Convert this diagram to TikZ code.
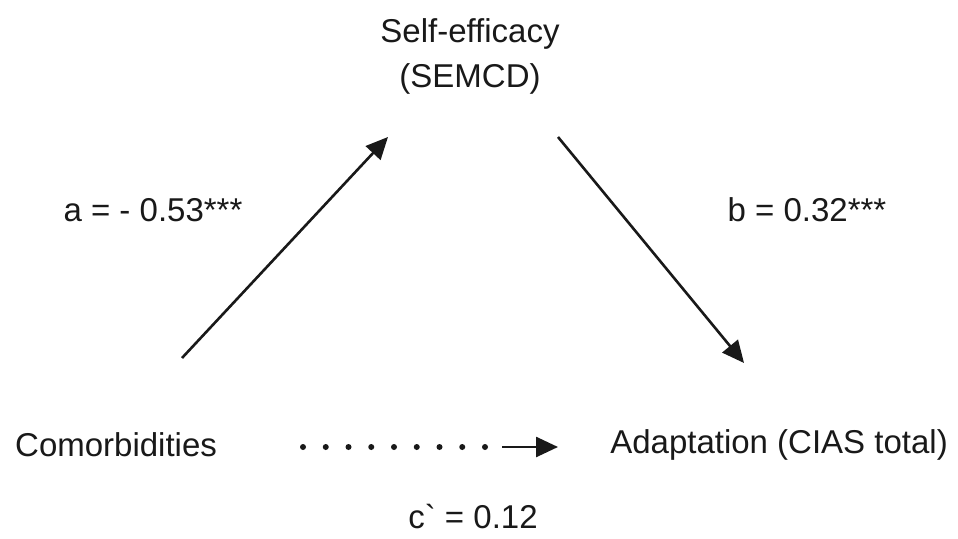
\documentclass[tikz,border=0pt]{standalone}
\usepackage{fontspec}
\setmainfont{Liberation Sans}
\newfontfamily\rawsans{Liberation Sans}[Ligatures=TeXOff]
\usetikzlibrary{arrows.meta}
\begin{document}
\begin{tikzpicture}[x=1pt,y=-1pt,
  lbl/.style={inner sep=0pt,font=\fontsize{33}{45}\selectfont,text=black!90},
  conn/.style={line width=2.6pt,draw=black!90,-{Triangle[length=22pt,width=20pt]}},
  dotline/.style={line width=6pt,draw=black!90,line cap=round,dash pattern=on 0pt off 22.75pt}]
\useasboundingbox[fill=white] (0,0) rectangle (958,538);
\node[lbl,align=center] (se) at (470,56) {Self-efficacy\\(SEMCD)};
\node[lbl,anchor=west] (co) at (15,445) {Comorbidities};
\node[lbl,anchor=east] (ad) at (948,445) {Adaptation (CIAS total)};
\node[lbl] (la) at (153,210) {a = - 0.53***};
\node[lbl] (lb) at (807,210) {b = 0.32***};
\node[lbl] (lc) at (473,517) {{\rawsans c`} = 0.12};
\coordinate (a0) at (182,358);
\coordinate (a1) at (388,137);
\coordinate (b0) at (558,137);
\coordinate (b1) at (744,363);
\coordinate (d0) at (303,447);
\coordinate (d1) at (486,447);
\coordinate (c0) at (502,447);
\coordinate (c1) at (558,447);
\draw[conn] (a0) -- (a1);
\draw[conn] (b0) -- (b1);
\draw[dotline] (d0) -- (d1);
\draw[conn] (c0) -- (c1);
\end{tikzpicture}
\end{document}
